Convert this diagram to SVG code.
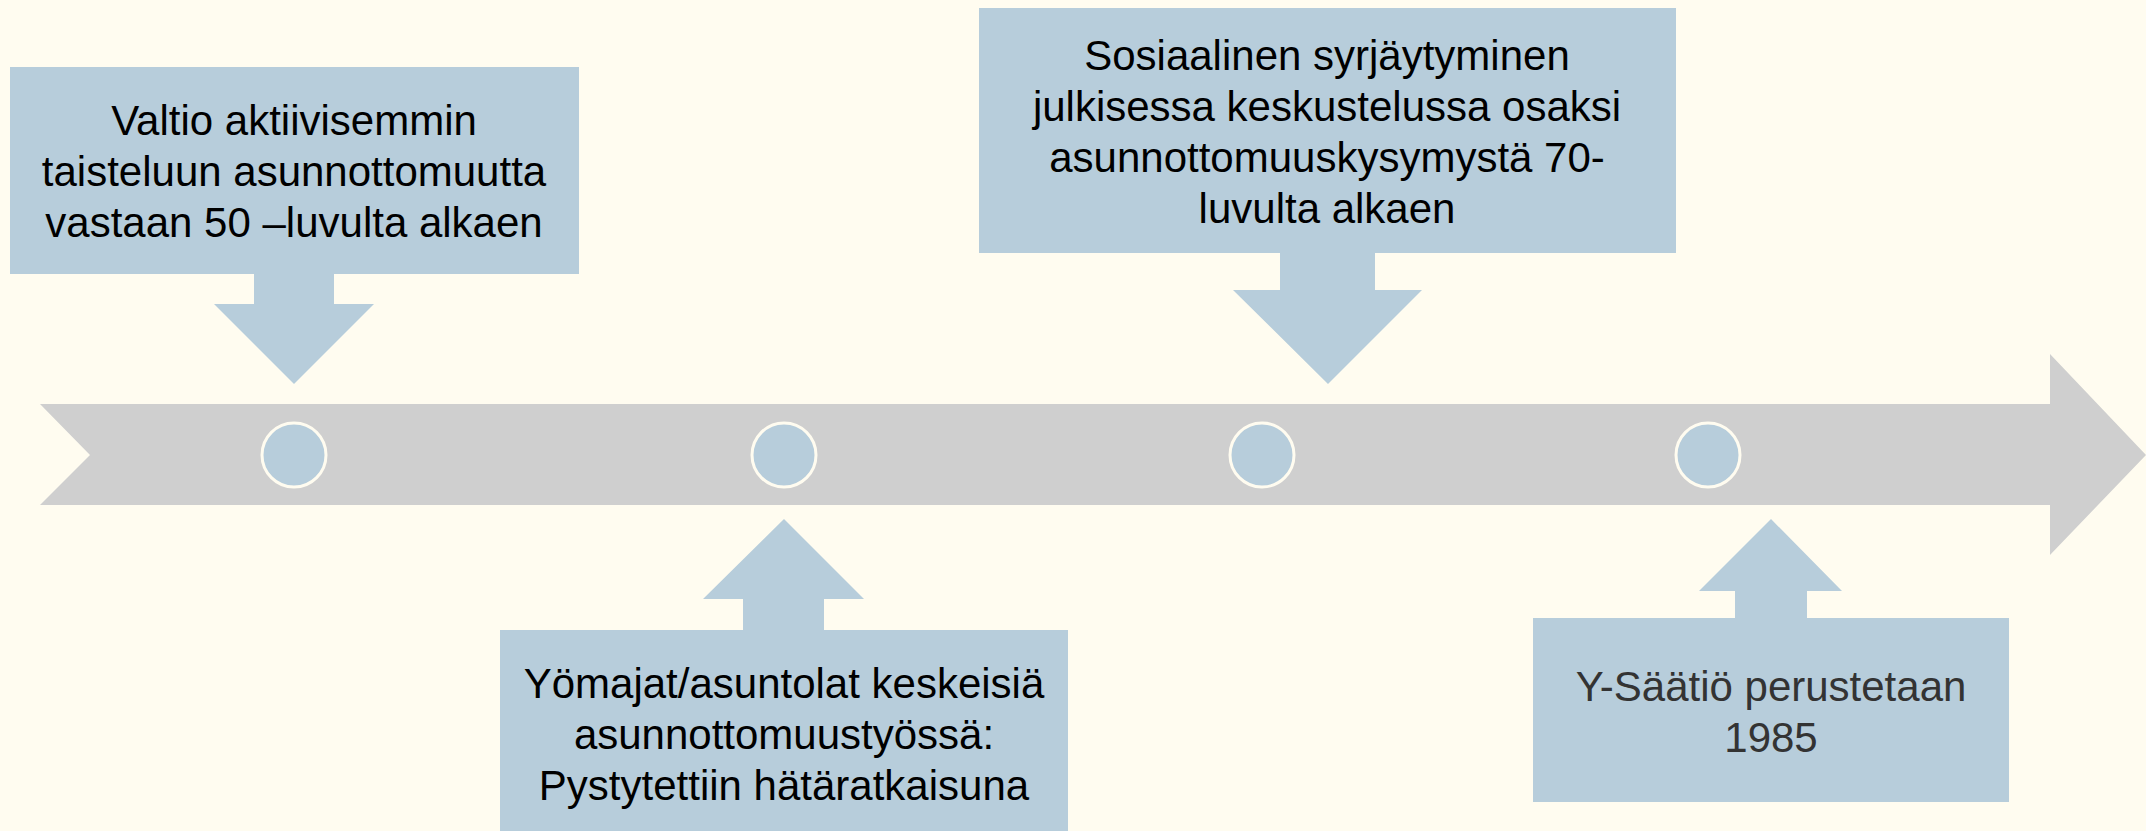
<svg xmlns="http://www.w3.org/2000/svg" width="2146" height="831" viewBox="0 0 2146 831">
<style>
.box{fill:#B7CDDB}
.dot{fill:#B7CDDB;stroke:#FFFCF0;stroke-width:3}
.t{font-family:"Liberation Sans",Arial,sans-serif;font-size:42px;fill:#000;text-anchor:middle}
.t4{fill:#333}
</style>
<rect width="2146" height="831" fill="#FFFCF0"/>
<g id="timeline">
<polygon points="40,404 2050,404 2050,354 2146,455 2050,555 2050,505 40,505 90,455" fill="#CFCFCF"/>
<circle class="dot" cx="294" cy="455" r="32"/>
<circle class="dot" cx="784" cy="455" r="32"/>
<circle class="dot" cx="1262" cy="455" r="32"/>
<circle class="dot" cx="1708" cy="455" r="32"/>
</g>
<g id="connectors">
<polygon class="box" points="254,273 334,273 334,304 374,304 294,384 214,304 254,304"/>
<polygon class="box" points="743,631 824,631 824,599 864,599 784,519 703,599 743,599"/>
<polygon class="box" points="1280,252 1375,252 1375,290 1422,290 1328,384 1233,290 1280,290"/>
<polygon class="box" points="1735,618 1807,618 1807,591 1842,591 1771,519 1699,591 1735,591"/>
</g>
<g id="node1">
<rect class="box" x="10" y="67" width="569" height="207"/>
<text class="t" x="294" y="135">Valtio aktiivisemmin</text>
<text class="t" x="294" y="186">taisteluun asunnottomuutta</text>
<text class="t" x="294" y="237">vastaan 50 –luvulta alkaen</text>
</g>
<g id="node2">
<rect class="box" x="500" y="630" width="568" height="201"/>
<text class="t" x="784" y="698">Yömajat/asuntolat keskeisiä</text>
<text class="t" x="784" y="749">asunnottomuustyössä:</text>
<text class="t" x="784" y="800">Pystytettiin hätäratkaisuna</text>
</g>
<g id="node3">
<rect class="box" x="979" y="8" width="697" height="245"/>
<text class="t" x="1327" y="70">Sosiaalinen syrjäytyminen</text>
<text class="t" x="1327" y="121">julkisessa keskustelussa osaksi</text>
<text class="t" x="1327" y="172">asunnottomuuskysymystä 70-</text>
<text class="t" x="1327" y="223">luvulta alkaen</text>
</g>
<g id="node4">
<rect class="box" x="1533" y="618" width="476" height="184"/>
<text class="t t4" x="1771" y="701">Y-Säätiö perustetaan</text>
<text class="t t4" x="1771" y="752">1985</text>
</g>
</svg>
